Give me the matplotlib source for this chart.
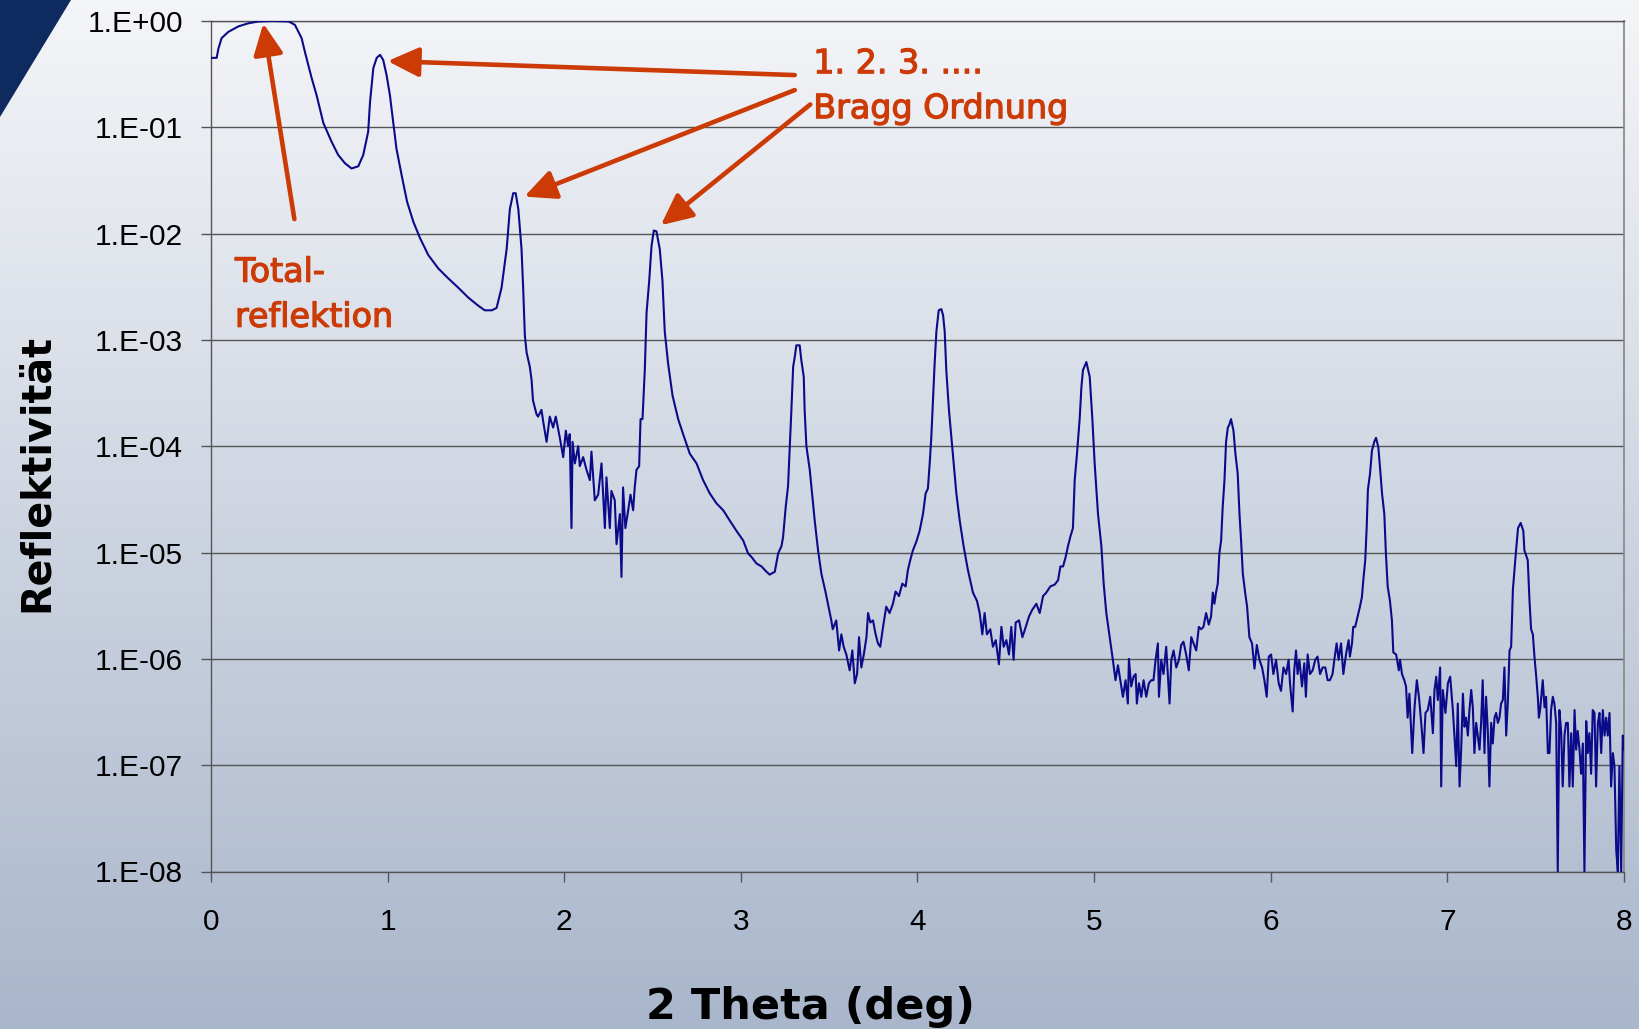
import matplotlib
matplotlib.use("Agg")
import matplotlib.pyplot as plt
import matplotlib.patheffects as pe
import numpy as np
from matplotlib.colors import LinearSegmentedColormap
from matplotlib.patches import Polygon
from matplotlib.ticker import NullLocator

# XRR scan of the multilayer, split into a few ranges so it stays readable
# total reflection plateau, 1st and 2nd Bragg peak
theta_low = [0.0, 0.032, 0.042, 0.06, 0.098, 0.155, 0.21, 0.268, 0.35, 0.44,
             0.475, 0.513, 0.532, 0.57, 0.598, 0.636, 0.683, 0.72, 0.758, 0.796,
             0.834, 0.862, 0.89, 0.90, 0.919, 0.938, 0.957, 0.975, 0.994, 1.013,
             1.032, 1.05, 1.08, 1.11, 1.145, 1.183, 1.23, 1.287, 1.343, 1.40,
             1.457, 1.513, 1.55, 1.59, 1.617, 1.645, 1.674, 1.692, 1.711, 1.725,
             1.74, 1.758]
refl_low = [4.5e-1, 4.5e-1, 5.5e-1, 6.9e-1, 7.9e-1, 8.9e-1, 9.5e-1, 9.9e-1, 1.0, 9.9e-1,
            9.2e-1, 6.9e-1, 5.1e-1, 2.9e-1, 2.0e-1, 1.1e-1, 7.3e-2, 5.5e-2, 4.6e-2, 4.1e-2,
            4.3e-2, 5.5e-2, 9.1e-2, 1.7e-1, 3.6e-1, 4.5e-1, 4.8e-1, 4.3e-1, 3.1e-1, 2.0e-1,
            1.1e-1, 6.3e-2, 3.5e-2, 2.0e-2, 1.3e-2, 9.1e-3, 6.3e-3, 4.7e-3, 3.8e-3, 3.1e-3,
            2.5e-3, 2.1e-3, 1.9e-3, 1.9e-3, 2.0e-3, 3.1e-3, 7.2e-3, 1.7e-2, 2.4e-2, 2.4e-2,
            1.7e-2, 7.2e-3]

# noisy region, 3rd and 4th Bragg peak
theta_mid = [1.767, 1.777, 1.787, 1.805, 1.815, 1.823, 1.843, 1.852, 1.871, 1.881,
             1.90, 1.918, 1.937, 1.952, 1.975, 1.994, 2.009, 2.022, 2.031, 2.041,
             2.047, 2.06, 2.079, 2.088, 2.107, 2.126, 2.145, 2.154, 2.173, 2.192,
             2.211, 2.23, 2.239, 2.258, 2.267, 2.286, 2.296, 2.315, 2.324, 2.333,
             2.346, 2.362, 2.375, 2.39, 2.399, 2.409, 2.424, 2.432, 2.443, 2.456,
             2.466, 2.481, 2.494, 2.507, 2.522, 2.541, 2.556, 2.569, 2.588, 2.613,
             2.645, 2.673, 2.711, 2.749, 2.786, 2.824, 2.862, 2.90, 2.937, 2.975,
             3.013, 3.041, 3.06, 3.088, 3.117, 3.145, 3.163, 3.192, 3.211, 3.23,
             3.239, 3.254, 3.267, 3.277, 3.286, 3.296, 3.305, 3.314, 3.333, 3.342,
             3.356, 3.361, 3.371]
refl_mid = [3.2e-3, 1.1e-3, 7.6e-4, 5.6e-4, 4.2e-4, 2.7e-4, 2.0e-4, 1.9e-4, 2.2e-4, 1.7e-4,
            1.1e-4, 1.9e-4, 1.5e-4, 1.9e-4, 1.2e-4, 7.9e-5, 1.4e-4, 1.0e-4, 1.3e-4, 1.7e-5,
            1.1e-4, 6.9e-5, 1.0e-4, 6.5e-5, 7.9e-5, 6.0e-5, 4.8e-5, 8.9e-5, 3.1e-5, 3.5e-5,
            6.9e-5, 1.7e-5, 5.1e-5, 1.7e-5, 3.8e-5, 3.1e-5, 1.2e-5, 2.3e-5, 5.9e-6, 4.1e-5,
            1.7e-5, 2.5e-5, 3.5e-5, 2.5e-5, 4.1e-5, 6.0e-5, 6.5e-5, 1.8e-4, 1.8e-4, 5.2e-4,
            1.8e-3, 3.6e-3, 7.6e-3, 1.07e-2, 1.05e-2, 7.1e-3, 3.6e-3, 1.2e-3, 6.0e-4, 3.0e-4,
            1.8e-4, 1.3e-4, 8.5e-5, 6.9e-5, 4.8e-5, 3.6e-5, 2.9e-5, 2.5e-5, 2.0e-5, 1.6e-5,
            1.3e-5, 9.8e-6, 9.1e-6, 7.9e-6, 7.4e-6, 6.6e-6, 6.2e-6, 6.6e-6, 9.8e-6, 1.15e-5,
            1.4e-5, 2.7e-5, 4.2e-5, 1.0e-4, 2.2e-4, 5.6e-4, 6.9e-4, 8.9e-4, 8.9e-4, 6.5e-4,
            4.5e-4, 2.2e-4, 1.0e-4]

# 5th and 6th Bragg peak
theta_high = [3.39, 3.418, 3.437, 3.456, 3.48, 3.50, 3.512, 3.52, 3.54, 3.556,
              3.569, 3.582, 3.597, 3.616, 3.631, 3.645, 3.658, 3.669, 3.682, 3.696,
              3.711, 3.72, 3.733, 3.748, 3.763, 3.776, 3.789, 3.805, 3.823, 3.842,
              3.861, 3.876, 3.895, 3.914, 3.933, 3.946, 3.959, 3.974, 3.993, 4.012,
              4.031, 4.046, 4.059, 4.069, 4.078, 4.088, 4.097, 4.107, 4.12, 4.135,
              4.145, 4.154, 4.163, 4.178, 4.20, 4.22, 4.239, 4.261, 4.285, 4.314,
              4.337, 4.352, 4.367, 4.38, 4.393, 4.412, 4.427, 4.443, 4.461, 4.475,
              4.488, 4.503, 4.518, 4.531, 4.544, 4.556, 4.575, 4.594, 4.613, 4.631,
              4.65, 4.673, 4.692, 4.711, 4.729, 4.752, 4.777, 4.796, 4.809, 4.824,
              4.839, 4.852, 4.865, 4.88, 4.89, 4.903, 4.918, 4.928, 4.937, 4.956,
              4.975, 4.99, 5.003, 5.022, 5.041, 5.054, 5.069, 5.088]
refl_high = [6.0e-5, 2.0e-5, 1.05e-5, 6.3e-6, 4.2e-6, 2.9e-6, 2.3e-6, 1.9e-6, 2.3e-6, 1.2e-6,
             1.7e-6, 1.3e-6, 1.1e-6, 7.8e-7, 1.2e-6, 5.9e-7, 7.2e-7, 1.6e-6, 8.3e-7, 1.1e-6,
             1.6e-6, 2.7e-6, 2.2e-6, 2.3e-6, 1.7e-6, 1.4e-6, 1.3e-6, 2.0e-6, 3.1e-6, 2.7e-6,
             3.3e-6, 4.3e-6, 3.9e-6, 5.1e-6, 4.8e-6, 6.9e-6, 8.5e-6, 1.05e-5, 1.26e-5, 1.6e-5,
             2.3e-5, 3.6e-5, 4.0e-5, 6.9e-5, 1.2e-4, 2.8e-4, 6.0e-4, 1.2e-3, 1.9e-3, 1.95e-3,
             1.7e-3, 1.2e-3, 5.2e-4, 2.2e-4, 8.5e-5, 3.6e-5, 2.0e-5, 1.15e-5, 6.9e-6, 4.2e-6,
             3.5e-6, 2.7e-6, 1.7e-6, 2.7e-6, 1.7e-6, 1.9e-6, 1.3e-6, 1.5e-6, 8.9e-7, 2.0e-6,
             1.3e-6, 1.5e-6, 1.1e-6, 2.0e-6, 9.8e-7, 2.2e-6, 2.3e-6, 1.6e-6, 2.0e-6, 2.5e-6,
             2.9e-6, 3.3e-6, 2.7e-6, 3.9e-6, 4.2e-6, 4.8e-6, 5.0e-6, 5.5e-6, 7.4e-6, 7.4e-6,
             9.1e-6, 1.15e-5, 1.4e-5, 1.7e-5, 4.8e-5, 8.5e-5, 1.8e-4, 3.6e-4, 5.2e-4, 6.2e-4,
             4.5e-4, 1.8e-4, 6.9e-5, 2.3e-5, 1.15e-5, 5.1e-6, 2.7e-6, 1.6e-6]

# 7th and 8th Bragg peak
theta_tail = [5.106, 5.121, 5.135, 5.148, 5.163, 5.178, 5.191, 5.197, 5.21, 5.223,
              5.235, 5.242, 5.254, 5.267, 5.28, 5.295, 5.31, 5.323, 5.336, 5.348,
              5.361, 5.367, 5.38, 5.393, 5.408, 5.418, 5.427, 5.437, 5.45, 5.465,
              5.48, 5.493, 5.506, 5.521, 5.536, 5.55, 5.563, 5.578, 5.593, 5.606,
              5.619, 5.634, 5.649, 5.662, 5.672, 5.681, 5.69, 5.70, 5.709, 5.719,
              5.728, 5.738, 5.747, 5.757, 5.766, 5.775, 5.789, 5.80, 5.813, 5.823,
              5.832, 5.842, 5.855, 5.866, 5.879, 5.894, 5.908, 5.921, 5.936, 5.951,
              5.964, 5.977, 5.989, 6.002, 6.015, 6.03, 6.045, 6.058, 6.072, 6.087,
              6.101, 6.109, 6.124, 6.133, 6.143, 6.152, 6.162, 6.177, 6.19, 6.199,
              6.209, 6.222, 6.237, 6.252, 6.265, 6.279, 6.294, 6.309, 6.322, 6.335,
              6.35, 6.36, 6.373, 6.384, 6.398, 6.411, 6.426, 6.441, 6.448, 6.46,
              6.467, 6.478, 6.492, 6.505, 6.516, 6.524, 6.535, 6.543, 6.55, 6.562,
              6.573, 6.586, 6.596, 6.609, 6.618, 6.63, 6.643, 6.652, 6.662, 6.675,
              6.686, 6.694, 6.71, 6.725, 6.732, 6.743, 6.756, 6.766, 6.775, 6.785]
refl_tail = [9.8e-7, 6.3e-7, 8.7e-7, 6.3e-7, 4.4e-7, 6.3e-7, 3.8e-7, 1.0e-6, 5.5e-7, 6.8e-7,
             7.2e-7, 3.8e-7, 5.9e-7, 4.4e-7, 6.3e-7, 4.4e-7, 5.9e-7, 6.3e-7, 6.3e-7, 9.8e-7,
             1.4e-6, 4.4e-7, 9.8e-7, 7.2e-7, 1.3e-6, 6.8e-7, 3.8e-7, 9.8e-7, 1.2e-6, 8.3e-7,
             9.8e-7, 1.35e-6, 1.45e-6, 1.1e-6, 7.8e-7, 1.6e-6, 1.4e-6, 1.2e-6, 2.0e-6, 1.9e-6,
             2.0e-6, 2.7e-6, 2.1e-6, 2.5e-6, 4.2e-6, 3.3e-6, 4.2e-6, 5.1e-6, 9.8e-6, 1.3e-5,
             2.7e-5, 4.8e-5, 1.1e-4, 1.5e-4, 1.6e-4, 1.8e-4, 1.4e-4, 8.5e-5, 5.5e-5, 2.3e-5,
             1.3e-5, 6.3e-6, 4.2e-6, 3.1e-6, 1.6e-6, 1.4e-6, 8.1e-7, 1.35e-6, 9.8e-7, 8.3e-7,
             6.3e-7, 4.4e-7, 1.05e-6, 1.1e-6, 7.2e-7, 9.8e-7, 5.9e-7, 5.0e-7, 8.3e-7, 7.2e-7,
             9.8e-7, 5.9e-7, 3.2e-7, 7.8e-7, 1.2e-6, 7.2e-7, 9.8e-7, 5.5e-7, 9.1e-7, 4.4e-7,
             1.1e-6, 7.2e-7, 7.8e-7, 9.8e-7, 1.05e-6, 7.2e-7, 8.3e-7, 8.3e-7, 6.3e-7, 6.3e-7,
             7.2e-7, 9.8e-7, 1.4e-6, 9.8e-7, 1.4e-6, 7.2e-7, 1.1e-6, 1.5e-6, 1.05e-6, 1.4e-6,
             2.0e-6, 2.0e-6, 2.5e-6, 3.1e-6, 3.8e-6, 5.5e-6, 8.5e-6, 1.7e-5, 3.9e-5, 5.5e-5,
             9.1e-5, 1.1e-4, 1.2e-4, 9.8e-5, 6.5e-5, 3.6e-5, 2.3e-5, 9.8e-6, 4.8e-6, 3.5e-6,
             2.3e-6, 1.15e-6, 1.1e-6, 7.8e-7, 9.8e-7, 7.2e-7, 6.3e-7, 5.5e-7, 2.8e-7, 4.7e-7]

# 9th Bragg peak and background at the end of the scan
theta_end = [6.801, 6.814, 6.827, 6.839, 6.852, 6.865, 6.876, 6.889, 6.903, 6.918,
             6.927, 6.937, 6.946, 6.959, 6.965, 6.974, 6.989, 7.003, 7.016, 7.031,
             7.04, 7.05, 7.059, 7.069, 7.078, 7.088, 7.097, 7.106, 7.116, 7.125,
             7.135, 7.144, 7.153, 7.163, 7.172, 7.182, 7.191, 7.20, 7.21, 7.219,
             7.229, 7.238, 7.248, 7.257, 7.267, 7.276, 7.286, 7.295, 7.304, 7.314,
             7.323, 7.333, 7.342, 7.352, 7.361, 7.371, 7.38, 7.389, 7.40, 7.415,
             7.43, 7.436, 7.455, 7.465, 7.474, 7.484, 7.493, 7.503, 7.512, 7.518,
             7.525, 7.54, 7.55, 7.559, 7.569, 7.578, 7.587, 7.597, 7.606, 7.616,
             7.625, 7.634, 7.644, 7.653, 7.663, 7.672, 7.682, 7.691, 7.701, 7.71,
             7.72, 7.729, 7.738, 7.748, 7.757, 7.767, 7.776, 7.786, 7.795, 7.804,
             7.814, 7.823, 7.833, 7.842, 7.852, 7.861, 7.871, 7.88, 7.89, 7.899,
             7.908, 7.918, 7.927, 7.937, 7.946, 7.956, 7.965, 7.974, 7.984, 7.993,
             8.0]
refl_end = [1.3e-7, 3.5e-7, 6.3e-7, 4.4e-7, 2.5e-7, 1.3e-7, 3.1e-7, 3.3e-7, 4.4e-7, 2.0e-7,
            5.1e-7, 6.8e-7, 4.1e-7, 8.3e-7, 6.3e-8, 5.1e-7, 3.1e-7, 5.9e-7, 6.8e-7, 3.3e-7,
            1.9e-7, 9.8e-8, 3.8e-7, 6.3e-8, 1.4e-7, 4.7e-7, 2.3e-7, 2.8e-7, 1.9e-7, 3.3e-7,
            5.1e-7, 3.5e-7, 1.3e-7, 2.5e-7, 1.9e-7, 1.4e-7, 2.5e-7, 6.3e-7, 1.3e-7, 4.4e-7,
            2.1e-7, 6.3e-8, 2.5e-7, 1.6e-7, 2.8e-7, 3.1e-7, 2.5e-7, 2.8e-7, 3.8e-7, 4.1e-7,
            8.3e-7, 1.9e-7, 3.8e-7, 1.2e-6, 1.3e-6, 4.5e-6, 6.9e-6, 1.05e-5, 1.7e-5, 1.9e-5,
            1.6e-5, 1.05e-5, 8.5e-6, 3.5e-6, 1.9e-6, 1.7e-6, 1.05e-6, 6.8e-7, 4.4e-7, 2.8e-7,
            3.3e-7, 6.3e-7, 3.5e-7, 4.4e-7, 1.3e-7, 1.3e-7, 3.3e-7, 4.4e-7, 3.8e-7, 2.5e-7,
            1.0e-8, 3.3e-7, 2.1e-7, 6.3e-8, 1.9e-7, 2.5e-7, 2.5e-7, 6.3e-8, 2.0e-7, 6.3e-8,
            3.3e-7, 1.4e-7, 2.1e-7, 1.4e-7, 8.3e-8, 1.6e-7, 1.0e-8, 2.6e-7, 1.3e-7, 2.0e-7,
            8.3e-8, 3.3e-7, 3.1e-7, 6.3e-8, 2.5e-7, 3.1e-7, 1.3e-7, 3.3e-7, 1.9e-7, 2.8e-7,
            1.9e-7, 3.1e-7, 6.3e-8, 1.3e-7, 9.8e-8, 1.6e-8, 1.0e-8, 9.8e-8, 1.0e-8, 1.9e-7,
            1.4e-7]

xticks = [0, 1, 2, 3, 4, 5, 6, 7, 8]
yticks = [1e-8, 1e-7, 1e-6, 1e-5, 1e-4, 1e-3, 1e-2, 1e-1, 1e0]
ytick_labels = ["1.E-08", "1.E-07", "1.E-06", "1.E-05", "1.E-04",
                "1.E-03", "1.E-02", "1.E-01", "1.E+00"]

theta = np.concatenate([theta_low, theta_mid, theta_high, theta_tail, theta_end])
refl = np.concatenate([refl_low, refl_mid, refl_high, refl_tail, refl_end])

ORANGE = "#cc3a06"
W, H = 1640, 1029

fig = plt.figure(figsize=(W / 100, H / 100), dpi=100)

# slide background: light gradient and the dark corner wedge
bg = fig.add_axes([0, 0, 1, 1], zorder=-1)
grad = np.linspace(0, 1, 256).reshape(-1, 1)
cmap = LinearSegmentedColormap.from_list("slide", ["#f4f5f8", "#a9b6cb"])
bg.imshow(grad, aspect="auto", cmap=cmap, extent=[0, 1, 0, 1], origin="upper")
bg.add_patch(Polygon([[0, 1], [71 / W, 1], [0, 1 - 117 / H]], closed=True,
                     facecolor="#0e2a5e", edgecolor="none"))
bg.set_xlim(0, 1)
bg.set_ylim(0, 1)
bg.axis("off")

ax = fig.add_axes([211 / W, 1 - 871.5 / H, (1624 - 211) / W, (871.5 - 21) / H])
ax.set_facecolor("none")
ax.semilogy(theta, refl, color="#0b0b8a", lw=1.5, zorder=3)

ax.set_xlim(0, 8)
ax.set_ylim(1e-8, 1)
ax.set_xticks(xticks)
ax.set_yticks(yticks)
ax.set_yticklabels(ytick_labels)
ax.yaxis.set_minor_locator(NullLocator())
ax.grid(axis="y", color="#555555", lw=1.0)
ax.set_axisbelow(True)

for side in ["left", "bottom", "top"]:
    ax.spines[side].set_color("#555555")
    ax.spines[side].set_linewidth(1.0)
ax.spines["right"].set_color("#8c8c8c")
ax.spines["right"].set_linewidth(1.3)

ax.tick_params(direction="out", length=7, width=1, color="#555555")
ax.tick_params(axis="y", pad=13)
ax.tick_params(axis="x", pad=19)
for lbl in ax.get_xticklabels() + ax.get_yticklabels():
    lbl.set_fontfamily("Liberation Sans")
    lbl.set_fontsize(21.5)

fig.text(811 / W, 1 - 1019 / H, "2 Theta (deg)", ha="center", va="baseline",
         fontsize=31, fontweight="bold", family="DejaVu Sans")
fig.text(36.6 / W, 1 - 473 / H, "Reflektivität", ha="center", va="center",
         rotation=90, fontsize=28.5, fontweight="bold", family="DejaVu Sans")

# annotations
arrow = dict(arrowstyle="-|>,head_length=0.95,head_width=0.45", lw=3.3,
             color=ORANGE, shrinkA=0, shrinkB=0, mutation_scale=20)
ax.annotate("", xy=(0.296, 0.95), xytext=(0.472, 1.37e-2), arrowprops=arrow)
ax.annotate("", xy=(1.0, 0.42), xytext=(3.305, 0.31), arrowprops=arrow)
ax.annotate("", xy=(1.774, 2.23e-2), xytext=(3.305, 0.224), arrowprops=arrow)
ax.annotate("", xy=(2.547, 1.2e-2), xytext=(3.393, 0.164), arrowprops=arrow)

heavier = [pe.withStroke(linewidth=0.9, foreground=ORANGE)]
txt = dict(color=ORANGE, fontsize=24, family="DejaVu Sans", va="baseline",
           ha="left", path_effects=heavier)
ax.text(3.41, 0.323, "1. 2. 3. ....", **txt)
ax.text(3.41, 0.122, "Bragg Ordnung", **txt)
ax.text(0.136, 3.53e-3, "Total-", **txt)
ax.text(0.136, 1.33e-3, "reflektion", **txt)

fig.savefig("out.png", dpi=100)
